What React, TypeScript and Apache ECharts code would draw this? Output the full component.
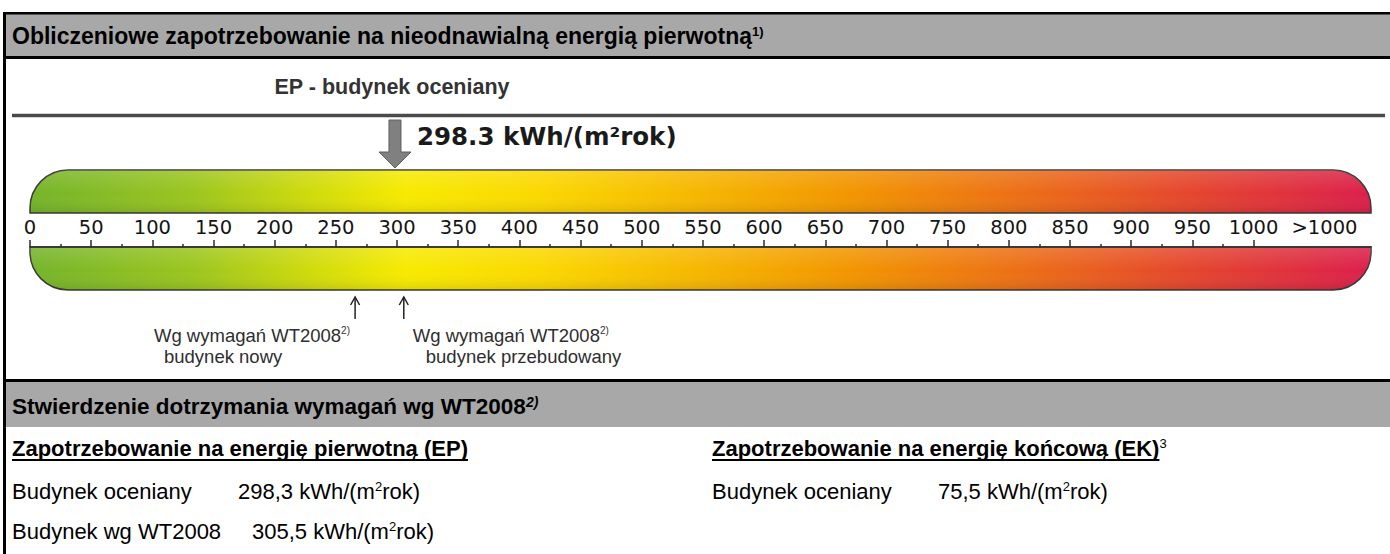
import React, { useEffect, useRef } from 'react';
import * as echarts from 'echarts';

const W = 1390;
const H = 554;

// ---- data ----
const scaleMin = 0;
const scaleMax = 1096;
const majorTicks = [0, 50, 100, 150, 200, 250, 300, 350, 400, 450, 500, 550, 600, 650, 700, 750, 800, 850, 900, 950, 1000];
const minorTicks = [25, 75, 125, 175, 225, 275, 325, 375, 425, 475, 525, 575, 625, 675, 725, 775, 825, 875, 925, 975];
const overLabelValue = 1058;
const overLabelText = '>1000';
const labelValues = [...majorTicks, overLabelValue];
const assessedEP = 298.3;
const requirementNew = 265.7;
const requirementRebuilt = 305.5;
const assessedEK = 75.5;

const title1 = 'Obliczeniowe zapotrzebowanie na nieodnawialną energią pierwotną';
const title2 = 'Stwierdzenie dotrzymania wymagań wg WT2008';
const epTitle = 'EP - budynek oceniany';
const subEP = 'Zapotrzebowanie na energię pierwotną (EP)';
const subEK = 'Zapotrzebowanie na energię końcową (EK)';
const rowAssessed = 'Budynek oceniany';
const rowWT = 'Budynek wg WT2008';
const reqLabel = 'Wg wymagań WT2008';
const reqNewLabel = 'budynek nowy';
const reqRebuiltLabel = 'budynek przebudowany';

// ---- layout ----
const Y = {
  hdr1Top: 12, hdr1Bottom: 56,
  epTitle: 87, rule: 115,
  arrowTop: 120, arrowNeck: 152, arrowTip: 168,
  valueText: 136,
  barTop: 170, barMid: 213, axis: 247, barBottom: 290,
  smallArrowTop: 297, smallArrowBottom: 319,
  lbl1: 335, lbl2: 356,
  hdr2Top: 379, hdr2Bottom: 427,
  sub: 448, row1: 491, row2: 531,
};
const GRID_LEFT = 30;
const GRID_WIDTH = 1341;
const COL2 = 712;

const ARIAL = "'Liberation Sans', Arial, Helvetica, sans-serif";
const VERD = "'DejaVu Sans', Verdana, sans-serif";

function measure(text: string, font: string): number {
  const c = document.createElement('canvas').getContext('2d')!;
  c.font = font;
  return c.measureText(text).width;
}

const fmtComma = (v: number) => v.toFixed(1).replace('.', ',');

export default function App() {
  const ref = useRef<HTMLDivElement>(null);
  useEffect(() => {
    const el = ref.current!;
    const chart = echarts.init(el, null, { renderer: 'svg', width: W, height: H });
    const axisColor = '#2b2b2b';
    chart.setOption({
      animation: false,
      grid: [{ left: GRID_LEFT, top: Y.barTop, width: GRID_WIDTH, height: Y.axis - Y.barTop, containLabel: false }],
      xAxis: [
        {
          type: 'value', gridIndex: 0, min: scaleMin, max: scaleMax, interval: 50, position: 'bottom', z: 10,
          axisLine: { show: true, lineStyle: { color: axisColor, width: 1.6 } },
          axisTick: { show: true, inside: true, length: 7, customValues: majorTicks, lineStyle: { color: axisColor, width: 1.5 } },
          axisLabel: {
            show: true, inside: true, margin: 10, customValues: labelValues,
            formatter: (v: number) => (v === overLabelValue ? overLabelText : String(v)),
            color: '#141414', fontFamily: VERD, fontSize: 19.5,
          },
          splitLine: { show: false },
        },
        {
          type: 'value', gridIndex: 0, min: scaleMin, max: scaleMax, interval: 50, position: 'bottom', z: 10,
          axisLine: { show: false },
          axisTick: { show: true, inside: true, length: 3, customValues: minorTicks, lineStyle: { color: axisColor, width: 1.5 } },
          axisLabel: { show: false },
          splitLine: { show: false },
        },
      ],
      yAxis: [{ type: 'value', gridIndex: 0, show: false, min: 0, max: 1 }],
      series: [{ type: 'line', xAxisIndex: 0, yAxisIndex: 0, data: [], silent: true }],
    });

    const px = (v: number) => chart.convertToPixel({ xAxisIndex: 0 }, v) as number;
    const x0 = px(scaleMin);
    const x1 = px(scaleMax);
    const bw = x1 - x0;
    const R = 38;

    const hGrad = () =>
      new echarts.graphic.LinearGradient(0, 0, 1, 0, [
        { offset: 0, color: '#74b42a' },
        { offset: 0.12, color: '#9bc51f' },
        { offset: 0.21, color: '#d0db0b' },
        { offset: 0.28, color: '#f7ea00' },
        { offset: 0.38, color: '#fbd800' },
        { offset: 0.50, color: '#f6b600' },
        { offset: 0.61, color: '#f29600' },
        { offset: 0.74, color: '#ec6e16' },
        { offset: 0.87, color: '#e4442e' },
        { offset: 1, color: '#dc1f4b' },
      ]);
    const vGrad = () =>
      new echarts.graphic.LinearGradient(0, 0, 0, 1, [
        { offset: 0, color: 'rgba(255,255,255,0.14)' },
        { offset: 0.55, color: 'rgba(255,255,255,0)' },
        { offset: 1, color: 'rgba(0,0,0,0.10)' },
      ]);

    const graphics: any[] = [];
    // frame and headers
    graphics.push({ type: 'rect', z: 1, shape: { x: 3, y: Y.hdr1Top, width: W - 3, height: Y.hdr1Bottom - Y.hdr1Top }, style: { fill: '#a8a8a8' } });
    graphics.push({ type: 'rect', z: 2, shape: { x: 3, y: Y.hdr1Top, width: W - 3, height: 2.5 }, style: { fill: '#000' } });
    graphics.push({ type: 'rect', z: 2, shape: { x: 3, y: Y.hdr1Bottom, width: W - 3, height: 3 }, style: { fill: '#000' } });
    graphics.push({ type: 'rect', z: 1, shape: { x: 3, y: Y.hdr2Top, width: W - 3, height: Y.hdr2Bottom - Y.hdr2Top }, style: { fill: '#a8a8a8' } });
    graphics.push({ type: 'rect', z: 2, shape: { x: 3, y: Y.hdr2Top, width: W - 3, height: 3 }, style: { fill: '#000' } });
    graphics.push({ type: 'rect', z: 2, shape: { x: 3, y: Y.hdr1Top, width: 3, height: H - Y.hdr1Top }, style: { fill: '#000' } });

    const supRich = (size: number, italic: boolean) => ({
      sup: { fontSize: size, verticalAlign: 'top', fontWeight: 'bold', fontStyle: italic ? 'italic' : 'normal', fontFamily: ARIAL, fill: '#000' },
    });
    graphics.push({
      type: 'text', z: 5, x: 12, y: (Y.hdr1Top + Y.hdr1Bottom) / 2 + 2,
      style: { text: title1 + '{sup|1)}', fontFamily: ARIAL, fontWeight: 'bold', fontSize: 23, fill: '#000', verticalAlign: 'middle', align: 'left', rich: supRich(13, false) },
    });
    graphics.push({
      type: 'text', z: 5, x: 12, y: (Y.hdr2Top + Y.hdr2Bottom) / 2 + 3,
      style: { text: title2 + '{sup|2)}', fontFamily: ARIAL, fontWeight: 'bold', fontSize: 22.5, fill: '#000', verticalAlign: 'middle', align: 'left', rich: supRich(14, true) },
    });

    // EP title and rule
    graphics.push({
      type: 'text', z: 5, x: 392, y: Y.epTitle,
      style: { text: epTitle, fontFamily: ARIAL, fontWeight: 'bold', fontSize: 21.5, fill: '#333', align: 'center', verticalAlign: 'middle' },
    });
    graphics.push({ type: 'rect', z: 3, shape: { x: 12, y: Y.rule - 2, width: 1373, height: 5 }, style: { fill: '#d2d2d2' } });
    graphics.push({ type: 'rect', z: 4, shape: { x: 12, y: Y.rule - 1, width: 1373, height: 3 }, style: { fill: '#4a4a4a' } });

    // bar halves
    graphics.push({ type: 'rect', z: 3, shape: { x: x0, y: Y.barTop, width: bw, height: Y.barMid - Y.barTop, r: [R, R, 0, 0] }, style: { fill: hGrad(), stroke: '#3a3a3a', lineWidth: 1.5 } });
    graphics.push({ type: 'rect', z: 4, silent: true, shape: { x: x0, y: Y.barTop, width: bw, height: Y.barMid - Y.barTop, r: [R, R, 0, 0] }, style: { fill: vGrad() } });
    graphics.push({ type: 'rect', z: 3, shape: { x: x0, y: Y.axis, width: bw, height: Y.barBottom - Y.axis, r: [0, 0, R, R] }, style: { fill: hGrad(), stroke: '#3a3a3a', lineWidth: 1.5 } });
    graphics.push({ type: 'rect', z: 4, silent: true, shape: { x: x0, y: Y.axis, width: bw, height: Y.barBottom - Y.axis, r: [0, 0, R, R] }, style: { fill: vGrad() } });

    // main arrow
    const ax = px(assessedEP);
    graphics.push({
      type: 'polygon', z: 6,
      shape: { points: [[ax - 6, Y.arrowTop], [ax + 6, Y.arrowTop], [ax + 6, Y.arrowNeck], [ax + 16, Y.arrowNeck], [ax, Y.arrowTip], [ax - 16, Y.arrowNeck], [ax - 6, Y.arrowNeck]] },
      style: { fill: '#808080', stroke: '#5e5e5e', lineWidth: 1 },
    });
    graphics.push({
      type: 'text', z: 6, x: ax + 22, y: Y.valueText,
      style: { text: `${assessedEP.toFixed(1)} kWh/(m²rok)`, fontFamily: VERD, fontWeight: 'bold', fontSize: 24.5, fill: '#1a1a1a', align: 'left', verticalAlign: 'middle' },
    });

    // requirement arrows
    const smallArrow = (x: number) => [
      { type: 'line', z: 6, shape: { x1: x, y1: Y.smallArrowBottom, x2: x, y2: Y.smallArrowTop }, style: { stroke: '#222', lineWidth: 1.5 } },
      { type: 'polyline', z: 6, shape: { points: [[x - 4.5, Y.smallArrowTop + 8], [x, Y.smallArrowTop], [x + 4.5, Y.smallArrowTop + 8]] }, style: { stroke: '#222', lineWidth: 1.5, fill: null } },
    ];
    const rx1 = px(requirementNew);
    const rx2 = px(requirementRebuilt);
    graphics.push(...smallArrow(rx1), ...smallArrow(rx2));
    const LBL = 18.5;
    const lblRich = { sup: { fontSize: 10, verticalAlign: 'top', fontFamily: ARIAL, fill: '#333' } };
    const lblStyle = { fontFamily: ARIAL, fontSize: LBL, fill: '#2e2e2e', verticalAlign: 'middle', align: 'left', rich: lblRich };
    const lbl1w = measure(reqLabel, `${LBL}px ${ARIAL}`) + 10;
    const l1x = rx1 - 4 - lbl1w;
    graphics.push({ type: 'text', z: 6, x: l1x, y: Y.lbl1, style: { ...lblStyle, text: reqLabel + '{sup|2)}' } });
    graphics.push({ type: 'text', z: 6, x: l1x + 10, y: Y.lbl2, style: { ...lblStyle, text: reqNewLabel } });
    graphics.push({ type: 'text', z: 6, x: rx2 + 9, y: Y.lbl1, style: { ...lblStyle, text: reqLabel + '{sup|2)}' } });
    graphics.push({ type: 'text', z: 6, x: rx2 + 22, y: Y.lbl2, style: { ...lblStyle, text: reqRebuiltLabel } });

    // bottom section
    const SUBSIZE = 22;
    const subFont = `bold ${SUBSIZE}px ${ARIAL}`;
    const rowRich = { sup: { fontSize: 13, verticalAlign: 'top', fontFamily: ARIAL, fill: '#000' } };
    const addSub = (x: number, text: string, sup?: string) => {
      graphics.push({
        type: 'text', z: 6, x, y: Y.sub,
        style: { text: text + (sup ? `{sup|${sup}}` : ''), fontFamily: ARIAL, fontWeight: 'bold', fontSize: SUBSIZE, fill: '#000', verticalAlign: 'middle', rich: rowRich },
      });
      const w = measure(text, subFont);
      graphics.push({ type: 'rect', z: 6, shape: { x, y: Y.sub + 11, width: w, height: 2 }, style: { fill: '#000' } });
    };
    addSub(12, subEP);
    addSub(COL2, subEK, '3');
    const rowStyle = { fontFamily: ARIAL, fontSize: 22, fill: '#000', verticalAlign: 'middle', rich: rowRich };
    const unit = (v: number) => `${fmtComma(v)} kWh/(m{sup|2}rok)`;
    graphics.push({ type: 'text', z: 6, x: 12, y: Y.row1, style: { ...rowStyle, text: rowAssessed } });
    graphics.push({ type: 'text', z: 6, x: 238, y: Y.row1, style: { ...rowStyle, text: unit(assessedEP) } });
    graphics.push({ type: 'text', z: 6, x: 12, y: Y.row2, style: { ...rowStyle, text: rowWT } });
    graphics.push({ type: 'text', z: 6, x: 252, y: Y.row2, style: { ...rowStyle, text: unit(requirementRebuilt) } });
    graphics.push({ type: 'text', z: 6, x: COL2, y: Y.row1, style: { ...rowStyle, text: rowAssessed } });
    graphics.push({ type: 'text', z: 6, x: COL2 + 226, y: Y.row1, style: { ...rowStyle, text: unit(assessedEK) } });

    chart.setOption({ graphic: { elements: graphics } });
    return () => chart.dispose();
  }, []);
  return <div ref={ref} style={{ position: 'fixed', left: 0, top: 0, width: W, height: H, background: '#fff' }} />;
}
